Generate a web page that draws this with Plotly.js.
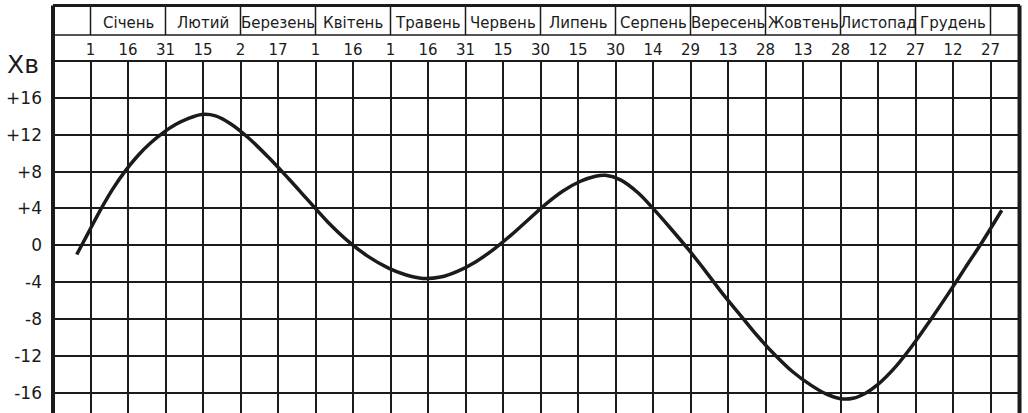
<!DOCTYPE html>
<html>
<head>
<meta charset="utf-8">
<script src="https://cdn.plot.ly/plotly-3.0.1.min.js"></script>
<style>
html,body{margin:0;padding:0;background:#fff;}
#chart{width:1028px;height:413px;}
</style>
</head>
<body>
<div id="chart"></div>
<script>
// ---- data ----
const months = ['Січень','Лютий','Березень','Квітень','Травень','Червень','Липень','Серпень','Вересень','Жовтень','Листопад','Грудень'];
const tickDays = [1,16,31,46,61,76,91,106,121,136,151,166,181,196,211,226,241,256,271,286,301,316,331,346,361];
const tickLabels = ['1','16','31','15','2','17','1','16','1','16','31','15','30','15','30','14','29','13','28','13','28','12','27','12','27'];
const yTicks = [-16,-12,-8,-4,0,4,8,12,16];
const yLabels = ['-16','-12','-8','-4','0','+4','+8','+12','+16'];
const curveDays = [-4.5,0,5,10,15,20,25,30,35,40,45.5,51,57,64,72,80,88,96,104,112,120,127,134,141,148,155,162,169,176,183,190,197,203,207,213,220,226,233,240,247,254,261,268,275,282,289,295,301,306,311,316,323,330,337,344,351,358,365.5];
const curveValues = [-1.0,1.3,3.85,6.15,8.1,9.75,11.1,12.2,13.1,13.75,14.2,14.05,13.2,11.7,9.6,7.3,4.9,2.5,0.45,-1.2,-2.45,-3.2,-3.6,-3.45,-2.8,-1.8,-0.5,1.05,2.75,4.45,5.9,6.95,7.5,7.6,7.1,5.7,4.0,1.85,-0.4,-2.8,-5.3,-7.6,-9.9,-11.95,-13.75,-15.15,-16.1,-16.65,-16.6,-16.05,-15.1,-13.2,-10.8,-8.1,-5.3,-2.4,0.5,3.8];

// ---- layout helpers ----
const W = 1028, H = 413;
const mL = 53, mR = 8, mT = 61, mB = 0;
const plotH = H - mT - mB;
const py = px => 1 + (mT - px) / plotH;       // pixel row -> paper y
const pxX = px => (px - mL) / (W - mL - mR);  // pixel col -> paper x
const ink = '#1b1b1b';
const font = 'DejaVu Sans, sans-serif';

const yTop = py(5.5), yMid = py(35), yPlot = 1;

const shapes = [];
// month cell boundaries (every second day-tick)
const monthBounds = tickDays.filter((d, i) => i % 2 === 0);
monthBounds.forEach(d => {
  shapes.push({type:'line', xref:'x', yref:'paper', x0:d, x1:d, y0:yMid, y1:yTop, line:{color:ink, width:1.5}});
});
// header horizontal lines
shapes.push({type:'line', xref:'paper', yref:'paper', x0:0, x1:1, y0:yTop, y1:yTop, line:{color:ink, width:3}});
shapes.push({type:'line', xref:'paper', yref:'paper', x0:0, x1:1, y0:yMid, y1:yMid, line:{color:ink, width:1.5}});
shapes.push({type:'line', xref:'paper', yref:'paper', x0:0, x1:1, y0:yPlot, y1:yPlot, line:{color:ink, width:2}});
// outer frame sides
shapes.push({type:'line', xref:'paper', yref:'paper', x0:0, x1:0, y0:0, y1:yTop, line:{color:ink, width:4}});
shapes.push({type:'line', xref:'paper', yref:'paper', x0:0.9995, x1:0.9995, y0:0, y1:yTop, line:{color:ink, width:4}});

const annotations = months.map((m, i) => ({
  text: m, xref:'x', yref:'paper', x: monthBounds[i] + 15, y: py(22.5),
  xanchor:'center', yanchor:'middle', showarrow:false,
  font:{family:font, size:15, color:ink}
}));
annotations.push({
  text:'Xв', xref:'paper', yref:'paper', x: pxX(23), y: py(64),
  xanchor:'center', yanchor:'middle', showarrow:false,
  font:{family:font, size:25, color:ink}
});

const trace = {
  x: curveDays, y: curveValues, type:'scatter', mode:'lines',
  line:{color:ink, width:3.5, shape:'spline', smoothing:1},
  hoverinfo:'skip'
};

const layout = {
  width: W, height: H,
  margin:{l:mL, r:mR, t:mT, b:mB, pad:0},
  paper_bgcolor:'#fff', plot_bgcolor:'#fff',
  showlegend:false,
  xaxis:{
    range:[-14, 372.8], side:'top', tickmode:'array', tickvals:tickDays, ticktext:tickLabels,
    showgrid:true, gridcolor:ink, gridwidth:2, zeroline:false, showline:false, ticks:'',
    ticklabelstandoff:2, automargin:false, fixedrange:true,
    tickfont:{family:font, size:15, color:ink}
  },
  yaxis:{
    range:[-18.2, 20], tickmode:'array', tickvals:yTicks, ticktext:yLabels,
    showgrid:true, gridcolor:ink, gridwidth:2, zeroline:false, showline:false, ticks:'',
    ticklabelstandoff:10, automargin:false, fixedrange:true,
    tickfont:{family:font, size:17, color:ink}
  },
  shapes: shapes,
  annotations: annotations
};

Plotly.newPlot('chart', [trace], layout, {staticPlot:true, displayModeBar:false});
</script>
</body>
</html>
